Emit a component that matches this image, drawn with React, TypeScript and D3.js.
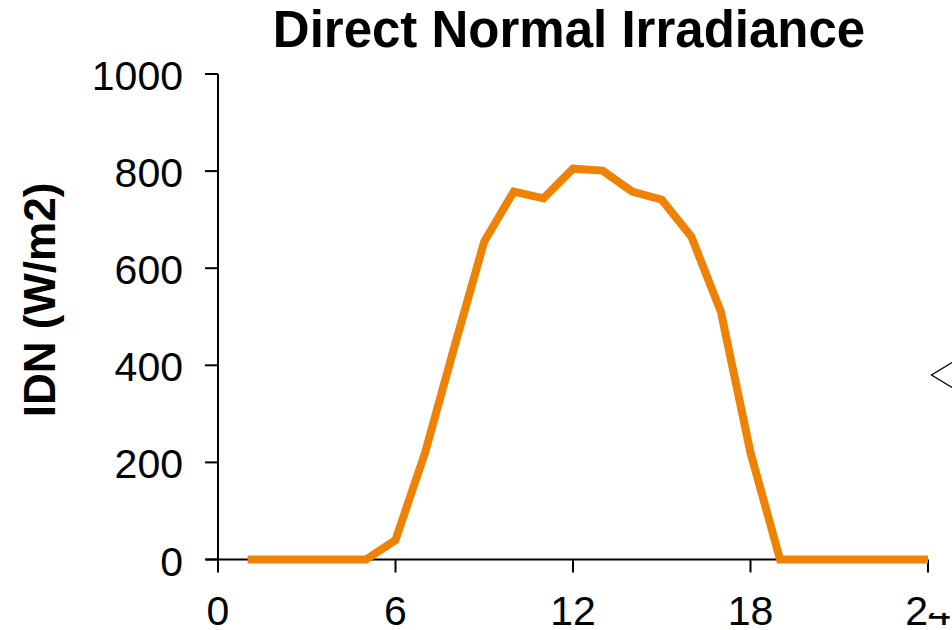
import React from "react";
import * as d3 from "d3";

const hours = [1,2,3,4,5,6,7,8,9,10,11,12,13,14,15,16,17,18,19,20,21,22,23,24];
const idn = [0,0,0,0,0,40,220,440,655,758,744,805,801,758,741,665,510,220,0,0,0,0,0,0];
const xTicks = [0, 6, 12, 18, 24];
const yTicks = [0, 200, 400, 600, 800, 1000];
const title = "Direct Normal Irradiance";
const yLabel = "IDN (W/m2)";

const W = 952, H = 630;
const FONT = "'Liberation Sans', Arial, sans-serif";

export default function App() {
  const x = d3.scaleLinear().domain([0, 24]).range([218, 928]);
  const y = d3.scaleLinear().domain([0, 1000]).range([559.5, 74]);
  const line = d3.line<number>().x((_, i) => x(hours[i])).y((d) => y(d));
  return (
    <svg width={W} height={H} style={{ position: "absolute", left: 0, top: 0, background: "#fff" }}>
      <rect x={0} y={0} width={W} height={H} fill="#fff" />
      <text x={569} y={47} textAnchor="middle" fontFamily={FONT} fontWeight="bold" fontSize={51} fill="#000">{title}</text>
      <text transform={`translate(55,300) rotate(-90)`} textAnchor="middle" fontFamily={FONT} fontWeight="bold" fontSize={44} fill="#000">{yLabel}</text>
      {/* y axis */}
      <line x1={x(0)} x2={x(0)} y1={y(1000)} y2={y(0)} stroke="#000" strokeWidth={2} />
      {yTicks.map((t) => (
        <g key={t}>
          <line x1={x(0) - 13} x2={x(0)} y1={y(t)} y2={y(t)} stroke="#000" strokeWidth={2} />
          <text x={183} y={y(t) + 16} textAnchor="end" fontFamily={FONT} fontSize={41} fill="#000">{t}</text>
        </g>
      ))}
      {/* x axis */}
      <line x1={x(0) - 12} x2={x(24)} y1={y(0)} y2={y(0)} stroke="#000" strokeWidth={2} />
      {xTicks.map((t) => (
        <g key={t}>
          <line x1={x(t)} x2={x(t)} y1={y(0)} y2={y(0) + 13} stroke="#000" strokeWidth={2} />
          <text x={x(t)} y={625} textAnchor="middle" fontFamily={FONT} fontSize={41} fill="#000">{t}</text>
        </g>
      ))}
      <path d={line(idn) || ""} fill="none" stroke="#EE8204" strokeWidth={8} strokeLinejoin="miter" />
      {/* neighbouring panel fragment */}
      <rect x={926} y={580} width={26} height={33} fill="#fff" />
      <path d="M952,362.5 L931.5,375 L952,387.5" fill="none" stroke="#000" strokeWidth={1.3} />
    </svg>
  );
}
